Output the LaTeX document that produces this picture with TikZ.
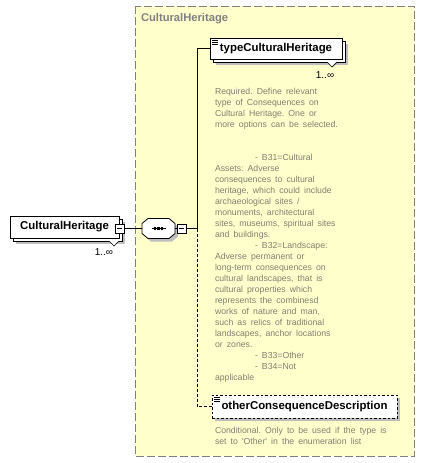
\documentclass[tikz,border=0pt]{standalone}
\usepackage{fontspec}
\usetikzlibrary{shadows}
\newfontfamily\libfont{Liberation Sans}
\protected\def\docspacing{\frenchspacing\spaceskip=4.1pt\relax}
\definecolor{groupbg}{RGB}{255,255,204}
\definecolor{groupline}{RGB}{128,128,128}
\definecolor{doctext}{RGB}{128,128,112}
\definecolor{shadowgray}{RGB}{190,190,190}
\tikzset{
  every node/.style={inner sep=0pt, outer sep=0pt},
  elemname/.style={font=\libfont\bfseries\fontsize{11.4}{13}\selectfont},
  multielem/.style={elemname, draw=black, fill=white, line width=0.8pt,
    general shadow={fill=shadowgray, shadow xshift=6pt, shadow yshift=-6pt},
    copy shadow={shadow xshift=3pt, shadow yshift=-3pt, fill=white, draw=black, line width=0.8pt}},
  optelem/.style={elemname, draw=black, fill=white, dashed, dash pattern=on 2.5pt off 2pt, line width=0.8pt,
    general shadow={fill=shadowgray, shadow xshift=3pt, shadow yshift=-3pt}},
  minusbox/.style={draw=black, fill=white, line width=0.7pt, minimum size=9pt,
    path picture={\draw[line width=0.7pt] ([xshift=2pt]path picture bounding box.west) -- ([xshift=-2pt]path picture bounding box.east);}},
  seqbox/.style={minimum width=33pt, minimum height=20pt},
  doc/.style={font=\libfont\fontsize{8.7}{11}\selectfont\docspacing, text=doctext, align=left, anchor=north west},
  mult/.style={font=\libfont\fontsize{10}{12}\selectfont},
  conn/.style={line width=0.8pt, draw=black},
  optconn/.style={conn, dash pattern=on 3pt off 2pt},
}
\begin{document}
\begin{tikzpicture}[x=1pt,y=-1pt]
\useasboundingbox (0,0) rectangle (425,463);
\fill[white] (0,0) rectangle (425,463);
% group box
\draw[groupline, fill=groupbg, line width=1pt, dash pattern=on 8pt off 3pt] (135,6) rectangle (414,456);
\node[anchor=west, text=groupline, font=\libfont\bfseries\fontsize{11.2}{13}\selectfont] (title) at (141,19) {CulturalHeritage};

% left element
\node[multielem, minimum width=109pt, minimum height=22pt] (ch) at (64.5,227) {CulturalHeritage};
\draw[line width=0.7pt, fill=white] ([shift={(-10,3)}]ch.south east) -- ([shift={(-5,8)}]ch.south east) -- ([shift={(0,3)}]ch.south east);
\node[mult] (chm) at (104,252) {1..∞};
\node[minusbox] (chminus) at (119.5,228.5) {};

% sequence compositor (octagon)
\node[seqbox] (seq) at (158.5,228.5) {};
\fill[shadowgray, transform canvas={shift={(3pt,-3pt)}}]
  ([xshift=6pt]seq.north west) -- ([xshift=-6pt]seq.north east) -- ([yshift=-5pt]seq.north east) -- ([yshift=5pt]seq.south east)
  -- ([xshift=-6pt]seq.south east) -- ([xshift=6pt]seq.south west) -- ([yshift=5pt]seq.south west) -- ([yshift=-5pt]seq.north west) -- cycle;
\filldraw[fill=white, draw=black, line width=0.8pt]
  ([xshift=6pt]seq.north west) -- ([xshift=-6pt]seq.north east) -- ([yshift=-5pt]seq.north east) -- ([yshift=5pt]seq.south east)
  -- ([xshift=-6pt]seq.south east) -- ([xshift=6pt]seq.south west) -- ([yshift=5pt]seq.south west) -- ([yshift=-5pt]seq.north west) -- cycle;
\draw[line width=0.8pt] ([xshift=-7pt]seq.center) -- ([xshift=7pt]seq.center);
\foreach \dx in {-3.5,0,3.5}
  \fill ([shift={(\dx-1.3,-1.3)}]seq.center) rectangle ([shift={(\dx+1.3,1.3)}]seq.center);
\node[minusbox] (seqminus) at (181.5,228.5) {};
\draw[conn] (chminus.east) -- (seq.west);
\draw[conn] (seq.east) -- (seqminus.west);

% bus
\coordinate (bus) at (197,228.5);
\draw[conn] (seqminus.east) -- (bus);

% typeCulturalHeritage
\node[multielem, minimum width=132pt, minimum height=21pt] (tch) at (276,48.5) {typeCulturalHeritage};
\draw[line width=0.7pt, fill=white] ([shift={(-15,3)}]tch.south east) -- ([shift={(-10,8)}]tch.south east) -- ([shift={(-5,3)}]tch.south east);
\foreach \dy in {2,4,6}
  \draw[line width=0.7pt] ([shift={(2,\dy)}]tch.north west) -- ([shift={(8,\dy)}]tch.north west);
\node[mult] (tchm) at (325,75) {1..∞};
\draw[conn] (bus) |- (tch.west);

\node[doc] (tchdoc) at (215,88) {Required. Define relevant\\
type of Consequences on\\
Cultural Heritage. One or\\
more options can be selected.\\[22pt]
\hspace*{40pt}- B31=Cultural\\
Assets: Adverse\\
consequences to cultural\\
heritage, which could include\\
archaeological sites /\\
monuments, architectural\\
sites, museums, spiritual sites\\
and buildings.\\
\hspace*{40pt}- B32=Landscape:\\
Adverse permanent or\\
long-term consequences on\\
cultural landscapes, that is\\
cultural properties which\\
represents the combinesd\\
works of nature and man,\\
such as relics of traditional\\
landscapes, anchor locations\\
or zones.\\
\hspace*{40pt}- B33=Other\\
\hspace*{40pt}- B34=Not\\
applicable};

% otherConsequenceDescription
\node[optelem, minimum width=185pt, minimum height=23pt] (ocd) at (304.5,406.5) {otherConsequenceDescription};
\foreach \dy in {2,4,6}
  \draw[line width=0.7pt] ([shift={(2,\dy)}]ocd.north west) -- ([shift={(8,\dy)}]ocd.north west);
\draw[optconn] (bus) |- (ocd.west);
\node[doc] (ocddoc) at (215,427) {Conditional. Only to be used if the type is\\
set to 'Other' in the enumeration list};
\end{tikzpicture}
\end{document}
